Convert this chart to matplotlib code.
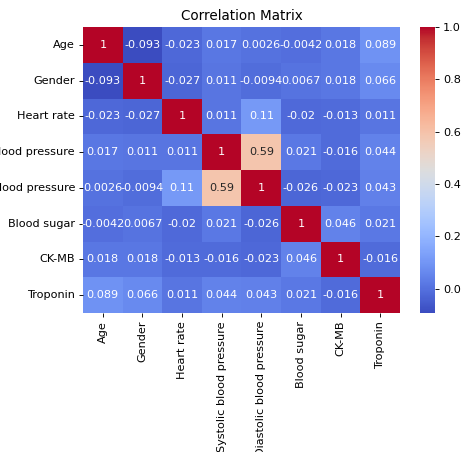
import matplotlib
matplotlib.use("Agg")
import matplotlib.pyplot as plt
import seaborn as sns
import numpy as np
import pandas as pd

labels = ["Age", "Gender", "Heart rate", "Systolic blood pressure",
          "Diastolic blood pressure", "Blood sugar", "CK-MB", "Troponin"]
age = [1, -0.093, -0.023, 0.017, 0.0026, -0.0042, 0.018, 0.089]
gender = [-0.093, 1, -0.027, 0.011, -0.0094, 0.0067, 0.018, 0.066]
heart_rate = [-0.023, -0.027, 1, 0.011, 0.11, -0.02, -0.013, 0.011]
systolic = [0.017, 0.011, 0.011, 1, 0.59, 0.021, -0.016, 0.044]
diastolic = [0.0026, -0.0094, 0.11, 0.59, 1, -0.026, -0.023, 0.043]
blood_sugar = [-0.0042, 0.0067, -0.02, 0.021, -0.026, 1, 0.046, 0.021]
ckmb = [0.018, 0.018, -0.013, -0.016, -0.023, 0.046, 1, -0.016]
troponin = [0.089, 0.066, 0.011, 0.044, 0.043, 0.021, -0.016, 1]

corr = pd.DataFrame([age, gender, heart_rate, systolic, diastolic,
                     blood_sugar, ckmb, troponin], index=labels, columns=labels)

DPI = 81
W, H = 463, 452
fig = plt.figure(figsize=(W / DPI, H / DPI), dpi=DPI)
ax = fig.add_axes([83 / W, 1 - 313 / H, 317 / W, 286 / H])
cax = fig.add_axes([420 / W, 1 - 313 / H, 15 / W, 286 / H])
sns.heatmap(corr, annot=True, cmap="coolwarm", ax=ax, cbar_ax=cax)
ax.set_title("Correlation Matrix")
fig.savefig("out.png", dpi=DPI)
